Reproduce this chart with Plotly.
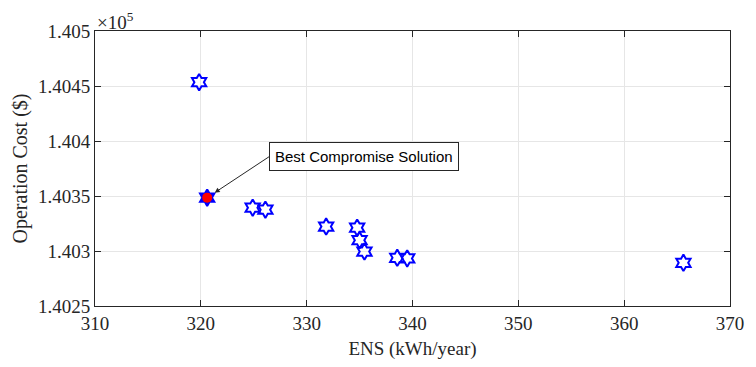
import plotly.graph_objects as go

ens = [319.84, 324.9, 326.1, 331.84, 334.77, 335.0, 335.46, 338.56, 339.5, 365.6]
cost = [140453.5, 140339.4, 140337.6, 140322.2, 140321.2, 140309.8, 140299.5, 140293.8, 140293.2, 140289.3]
best_ens = [320.6]
best_cost = [140348.5]

x_ticks = [310, 320, 330, 340, 350, 360, 370]
y_ticks = [1.4025, 1.403, 1.4035, 1.404, 1.4045, 1.405]
y_labels = ["1.4025", "1.403", "1.4035", "1.404", "1.4045", "1.405"]

scale = 1e5
serif = "Liberation Serif, Times New Roman, serif"

fig = go.Figure()
fig.add_trace(go.Scatter(
    x=ens, y=[c / scale for c in cost], mode="markers",
    marker=dict(symbol="hexagram-open", size=12.5, color="#0000ff", line=dict(width=2, color="#0000ff")),
    showlegend=False, cliponaxis=False))
fig.add_trace(go.Scatter(
    x=best_ens, y=[c / scale for c in best_cost], mode="markers",
    marker=dict(symbol="hexagram", size=12.5, color="#0000ff", line=dict(width=2, color="#0000ff")),
    showlegend=False, cliponaxis=False))
fig.add_trace(go.Scatter(
    x=best_ens, y=[c / scale for c in best_cost], mode="markers",
    marker=dict(symbol="circle", size=10, color="#ff0000", line=dict(width=0)),
    showlegend=False, cliponaxis=False))

axis_common = dict(
    showline=True, linecolor="#262626", linewidth=1, mirror="ticks",
    ticks="inside", ticklen=6, tickcolor="#262626",
    showgrid=True, gridcolor="#e6e6e6", gridwidth=1, zeroline=False,
    tickfont=dict(family=serif, size=19, color="#262626"),
)
fig.update_xaxes(range=[310, 370], tickvals=x_ticks, **axis_common,
                 title=dict(text="ENS (kWh/year)", font=dict(family=serif, size=19, color="#262626"), standoff=8))
fig.update_yaxes(range=[1.4025, 1.405], tickvals=y_ticks, ticktext=y_labels, **axis_common,
                 title=dict(text="Operation Cost ($)", font=dict(family=serif, size=20, color="#262626"), standoff=4))

fig.add_annotation(
    xref="paper", yref="paper", x=0.0, y=1.0, xanchor="left", yanchor="bottom",
    text="×10<sup>5</sup>", showarrow=False, yshift=-4,
    font=dict(family=serif, size=19, color="#262626"))

fig.add_annotation(
    x=best_ens[0], y=best_cost[0] / scale, xref="x", yref="y",
    text="Best Compromise Solution", showarrow=True, arrowhead=2, arrowsize=1, arrowwidth=1,
    arrowcolor="#262626", ax=62, ay=-41, xanchor="left",
    font=dict(family="Liberation Sans, Arial, sans-serif", size=15, color="#000000"),
    bgcolor="#ffffff", bordercolor="#262626", borderwidth=1, borderpad=5, standoff=9)

fig.update_layout(
    width=756, height=367, margin=dict(l=95, r=19, t=31, b=60),
    plot_bgcolor="#ffffff", paper_bgcolor="#ffffff",
)
fig.write_html("out.html")
